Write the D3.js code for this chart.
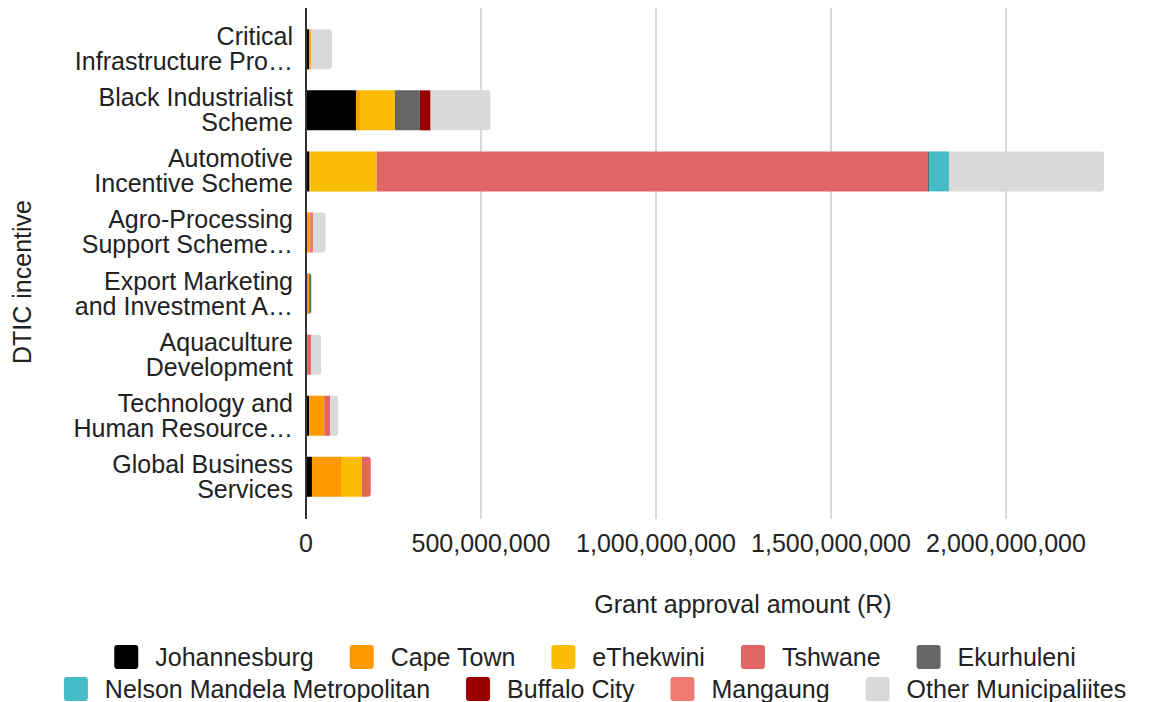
<!DOCTYPE html>
<html>
<head>
<meta charset="utf-8">
<script src="https://cdn.jsdelivr.net/npm/d3@7"></script>
<style>
  body { margin: 0; background: #fff; }
  text { font-family: "Liberation Sans", Arial, sans-serif; fill: #222; }
</style>
</head>
<body>
<svg id="chart" width="1169" height="702"></svg>
<script>
// incentive names, each split into the two lines shown on the axis
var categories = [
  ["Critical", "Infrastructure Pro\u2026"],
  ["Black Industrialist", "Scheme"],
  ["Automotive", "Incentive Scheme"],
  ["Agro-Processing", "Support Scheme\u2026"],
  ["Export Marketing", "and Investment A\u2026"],
  ["Aquaculture", "Development"],
  ["Technology and", "Human Resource\u2026"],
  ["Global Business", "Services"]
];

var seriesNames = ["Johannesburg", "Cape Town", "eThekwini", "Tshwane", "Ekurhuleni",
  "Nelson Mandela Metropolitan", "Buffalo City", "Mangaung", "Other Municipaliites"];

var seriesColors = ["#000000", "#ff9900", "#fbbc04", "#e06666", "#666666",
  "#46bdc6", "#990000", "#f07b72", "#d9d9d9"];

// grant approvals in millions of rand, one value per incentive
var johannesburg = [9, 143, 10, 0, 4, 4, 9, 17];
var capeTown     = [5, 11, 2, 10, 5, 0, 43, 83];
var eThekwini    = [0, 100, 190, 0, 0, 0, 0, 60];
var tshwane      = [0, 0, 1575, 0, 0, 11, 17, 25];
var ekurhuleni   = [0, 71, 3, 0, 6, 0, 0, 0];
var nelsonMandela = [0, 0, 57, 0, 0, 0, 0, 0];
var buffaloCity  = [0, 31, 0, 0, 0, 0, 0, 0];
var mangaung     = [0, 0, 0, 11, 0, 0, 0, 0];
var other        = [60, 171, 443, 35, 0, 28, 23, 0];

var xTicks = [0, 500000000, 1000000000, 1500000000, 2000000000];

var seriesValues = [johannesburg, capeTown, eThekwini, tshwane, ekurhuleni,
  nelsonMandela, buffaloCity, mangaung, other];

// build rows for d3.stack
var rows = categories.map(function(c, i) {
  var r = { idx: i };
  seriesNames.forEach(function(s, j) { r[s] = seriesValues[j][i] * 1e6; });
  return r;
});

var svg = d3.select("#chart");
var plotTop = 8, plotBottom = 519;
var fs = 25;

var x = d3.scaleLinear().domain([0, 2500000000]).range([306, 1181]);
var y = d3.scaleBand()
  .domain(d3.range(categories.length))
  .range([18.75, 507.3])
  .paddingInner(0.345)
  .paddingOuter(0.1725);

// gridlines
svg.append("g").selectAll("line")
  .data(xTicks.slice(1))
  .enter().append("line")
  .attr("x1", function(d) { return x(d); })
  .attr("x2", function(d) { return x(d); })
  .attr("y1", plotTop).attr("y2", plotBottom)
  .attr("stroke", "#cccccc").attr("stroke-width", 1.5);

var stacked = d3.stack().keys(seriesNames)(rows);

// index of the last non-zero series in each row, for the rounded end
var lastKey = rows.map(function(r) {
  var k = -1;
  seriesNames.forEach(function(s, j) { if (r[s] > 0) k = j; });
  return k;
});

function segPath(x0, x1, y0, h, round) {
  var r = Math.min(3, (x1 - x0));
  if (!round) return "M" + x0 + "," + y0 + "H" + x1 + "V" + (y0 + h) + "H" + x0 + "Z";
  return "M" + x0 + "," + y0 + "H" + (x1 - r) +
    "Q" + x1 + "," + y0 + " " + x1 + "," + (y0 + r) +
    "V" + (y0 + h - r) +
    "Q" + x1 + "," + (y0 + h) + " " + (x1 - r) + "," + (y0 + h) +
    "H" + x0 + "Z";
}

svg.append("g").selectAll("g")
  .data(stacked)
  .enter().append("g")
  .attr("fill", function(d, i) { return seriesColors[i]; })
  .selectAll("path")
  .data(function(d, i) { return d.map(function(p) { return { p: p, k: i }; }); })
  .enter().append("path")
  .filter(function(d) { return d.p[1] - d.p[0] > 0; })
  .attr("d", function(d) {
    var i = d.p.data.idx;
    return segPath(x(d.p[0]), x(d.p[1]), y(i), y.bandwidth(), lastKey[i] === d.k);
  });

// vertical axis line at zero
svg.append("line")
  .attr("x1", x(0)).attr("x2", x(0))
  .attr("y1", plotTop).attr("y2", plotBottom)
  .attr("stroke", "#333").attr("stroke-width", 2);

// category labels
var lab = svg.append("g").selectAll("text")
  .data(categories)
  .enter().append("text")
  .attr("text-anchor", "end")
  .attr("font-size", fs);
lab.each(function(d, i) {
  var c = y(i) + y.bandwidth() / 2;
  var t = d3.select(this);
  t.append("tspan").attr("x", 293).attr("y", c - 4).text(d[0]);
  t.append("tspan").attr("x", 293).attr("y", c + 21).text(d[1]);
});

// x tick labels
svg.append("g").selectAll("text")
  .data(xTicks)
  .enter().append("text")
  .attr("x", function(d) { return x(d); })
  .attr("y", 552)
  .attr("text-anchor", "middle")
  .attr("font-size", fs)
  .text(function(d) { return d3.format(",")(d); });

// axis titles
svg.append("text")
  .attr("x", 743).attr("y", 613)
  .attr("text-anchor", "middle")
  .attr("font-size", fs)
  .text("Grant approval amount (R)");

svg.append("text")
  .attr("transform", "translate(31,282) rotate(-90)")
  .attr("text-anchor", "middle")
  .attr("font-size", fs)
  .text("DTIC incentive");

// legend, two centred rows
var legendRows = [seriesNames.slice(0, 5), seriesNames.slice(5)];
var legendY = [657, 689];
legendRows.forEach(function(names, ri) {
  var g = svg.append("g");
  var cx = 0;
  names.forEach(function(n) {
    var j = seriesNames.indexOf(n);
    g.append("rect")
      .attr("x", cx).attr("y", legendY[ri] - 12)
      .attr("width", 24).attr("height", 24).attr("rx", 3)
      .attr("fill", seriesColors[j]);
    var t = g.append("text")
      .attr("x", cx + 41).attr("y", legendY[ri] + 9)
      .attr("font-size", fs)
      .text(n);
    cx += 41 + t.node().getComputedTextLength() + 36;
  });
  var w = cx - 36;
  g.attr("transform", "translate(" + (595 - w / 2) + ",0)");
});
</script>
</body>
</html>
